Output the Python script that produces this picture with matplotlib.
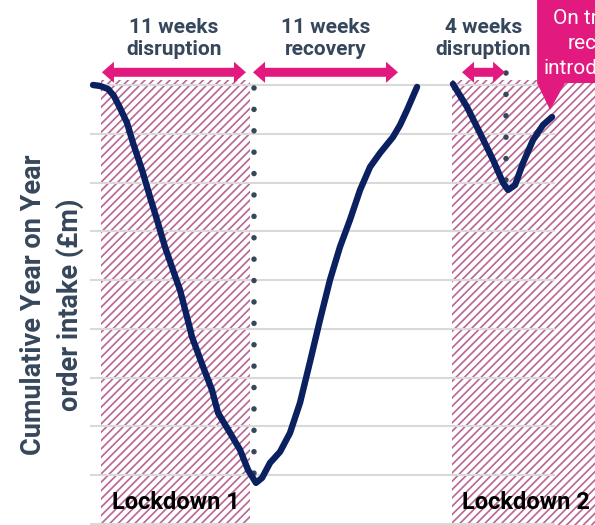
import numpy as np
import matplotlib
matplotlib.use("Agg")
import matplotlib.pyplot as plt
from matplotlib.patches import Polygon

plt.rcParams['font.family'] = ['Roboto', 'DejaVu Sans']
plt.rcParams['hatch.linewidth'] = 1.2

# Cumulative YoY order intake (£m) against weeks since lockdown 1 began
weeks_l1 = [-0.59, -0.07, 0.52, 0.96, 1.41, 1.93, 2.37, 3.04, 3.63, 4.15, 4.74, 5.33,
            5.85, 6.37, 6.74, 7.56, 8.22, 8.67, 9.56, 10.30, 10.89, 11.48, 11.93,
            12.52, 13.26, 14.00, 14.74, 15.48, 16.22, 16.96, 17.70, 18.44, 19.19,
            19.93, 20.67, 21.63, 22.15, 22.67, 23.41]
intake_l1 = [0.0, -0.10, -0.41, -1.13, -2.36, -3.89, -5.94, -8.71, -11.48, -13.83,
             -16.60, -18.96, -21.00, -23.77, -25.82, -28.89, -31.25, -33.61, -35.66,
             -37.40, -39.45, -40.78, -40.27, -38.73, -37.60, -35.66, -32.58, -28.38,
             -24.08, -19.98, -16.60, -13.83, -10.76, -8.40, -6.97, -5.33, -4.10,
             -2.56, -0.20]

weeks_l2 = [26.07, 27.11, 28.07, 29.04, 29.78, 30.15, 30.67, 31.26, 32.00, 32.74, 33.41]
intake_l2 = [0.10, -2.25, -4.92, -7.68, -10.04, -10.76, -10.25, -7.99, -5.64, -4.10, -3.28]

grid_values = [0, -5, -10, -15, -20, -25, -30, -35, -40, -45]

lockdowns = [(0, 11, 5.56, "Lockdown 1"), (26, 38, 31.5, "Lockdown 2")]
spans = [(0.07, 10.74, "11 weeks\ndisruption"),
         (11.26, 22.0, "11 weeks\nrecovery"),
         (26.74, 29.93, "4 weeks\ndisruption")]
trough_markers = [(11.33, -0.3, -40.1), (30.0, 1.2, -9.7)]
callout_lines = ["On track", "recovery", "introduced"]

navy = '#0b2060'
magenta = '#e2197e'
slate = '#36475c'
hatch_col = '#b96593'

fig = plt.figure(figsize=(5.95, 5.25), dpi=100)
ax = fig.add_axes([0, 0, 1, 1])
ax.set_xlim(-7.48, 36.59)
ax.set_ylim(-45.1, 8.71)
ax.axis('off')

# hatched lockdown periods
for x0, x1, xlab, name in lockdowns:
    ax.fill_between([x0, x1], -46, 0.5, facecolor='none', edgecolor=hatch_col,
                    lw=0, hatch='////', zorder=1)
    ax.text(xlab, -42.8, name, ha='center', va='center', fontsize=17,
            fontweight='bold', color='black', zorder=5)

ax.hlines(grid_values, -0.815, 33.6, color='#d9d9d9', lw=1.5, zorder=2)

# dotted markers at the trough
for x, y0, y1 in trough_markers:
    ax.plot([x, x], [y0, y1], color=slate, lw=4, ls=(0, (0.001, 3.85)),
            dash_capstyle='round', zorder=3)

ax.plot(weeks_l1, intake_l1, color=navy, lw=4.6, solid_capstyle='round',
        solid_joinstyle='round', zorder=4)
ax.plot(weeks_l2, intake_l2, color=navy, lw=4.6, solid_capstyle='round',
        solid_joinstyle='round', zorder=4)


def double_arrow(x0, x1, y, hl=0.89, hw=1.08, sw=0.46):
    pts = [(x0, y), (x0 + hl, y + hw), (x0 + hl, y + sw), (x1 - hl, y + sw),
           (x1 - hl, y + hw), (x1, y), (x1 - hl, y - hw), (x1 - hl, y - sw),
           (x0 + hl, y - sw), (x0 + hl, y - hw)]
    ax.add_patch(Polygon(pts, closed=True, color=magenta, lw=0, zorder=5))


for x0, x1, label in spans:
    double_arrow(x0, x1, 1.30)
    ax.text((x0 + x1) / 2, 4.75, label, ha='center', va='center', fontsize=15,
            fontweight='bold', color=slate, linespacing=1.2, zorder=5)

# callout box (clipped at the right edge like the original)
box = [(32.3, 9.5), (38, 9.5), (38, 0.2), (34.37, 0.2), (33.26, -2.56), (32.3, 0.2)]
ax.add_patch(Polygon(box, closed=True, color=magenta, lw=0, zorder=6))
for line, x, y in zip(callout_lines, [33.48, 34.59, 32.74], [6.86, 4.30, 1.74]):
    ax.text(x, y, line, ha='left', va='center', fontsize=15, color='white', zorder=7)

ax.text(-3.62, -22.5, "Cumulative Year on Year\norder intake (£m)", rotation=90,
        ha='center', va='center', fontsize=19.5, fontweight='bold', color=slate,
        linespacing=1.4)

fig.savefig('out.png', dpi=100)
